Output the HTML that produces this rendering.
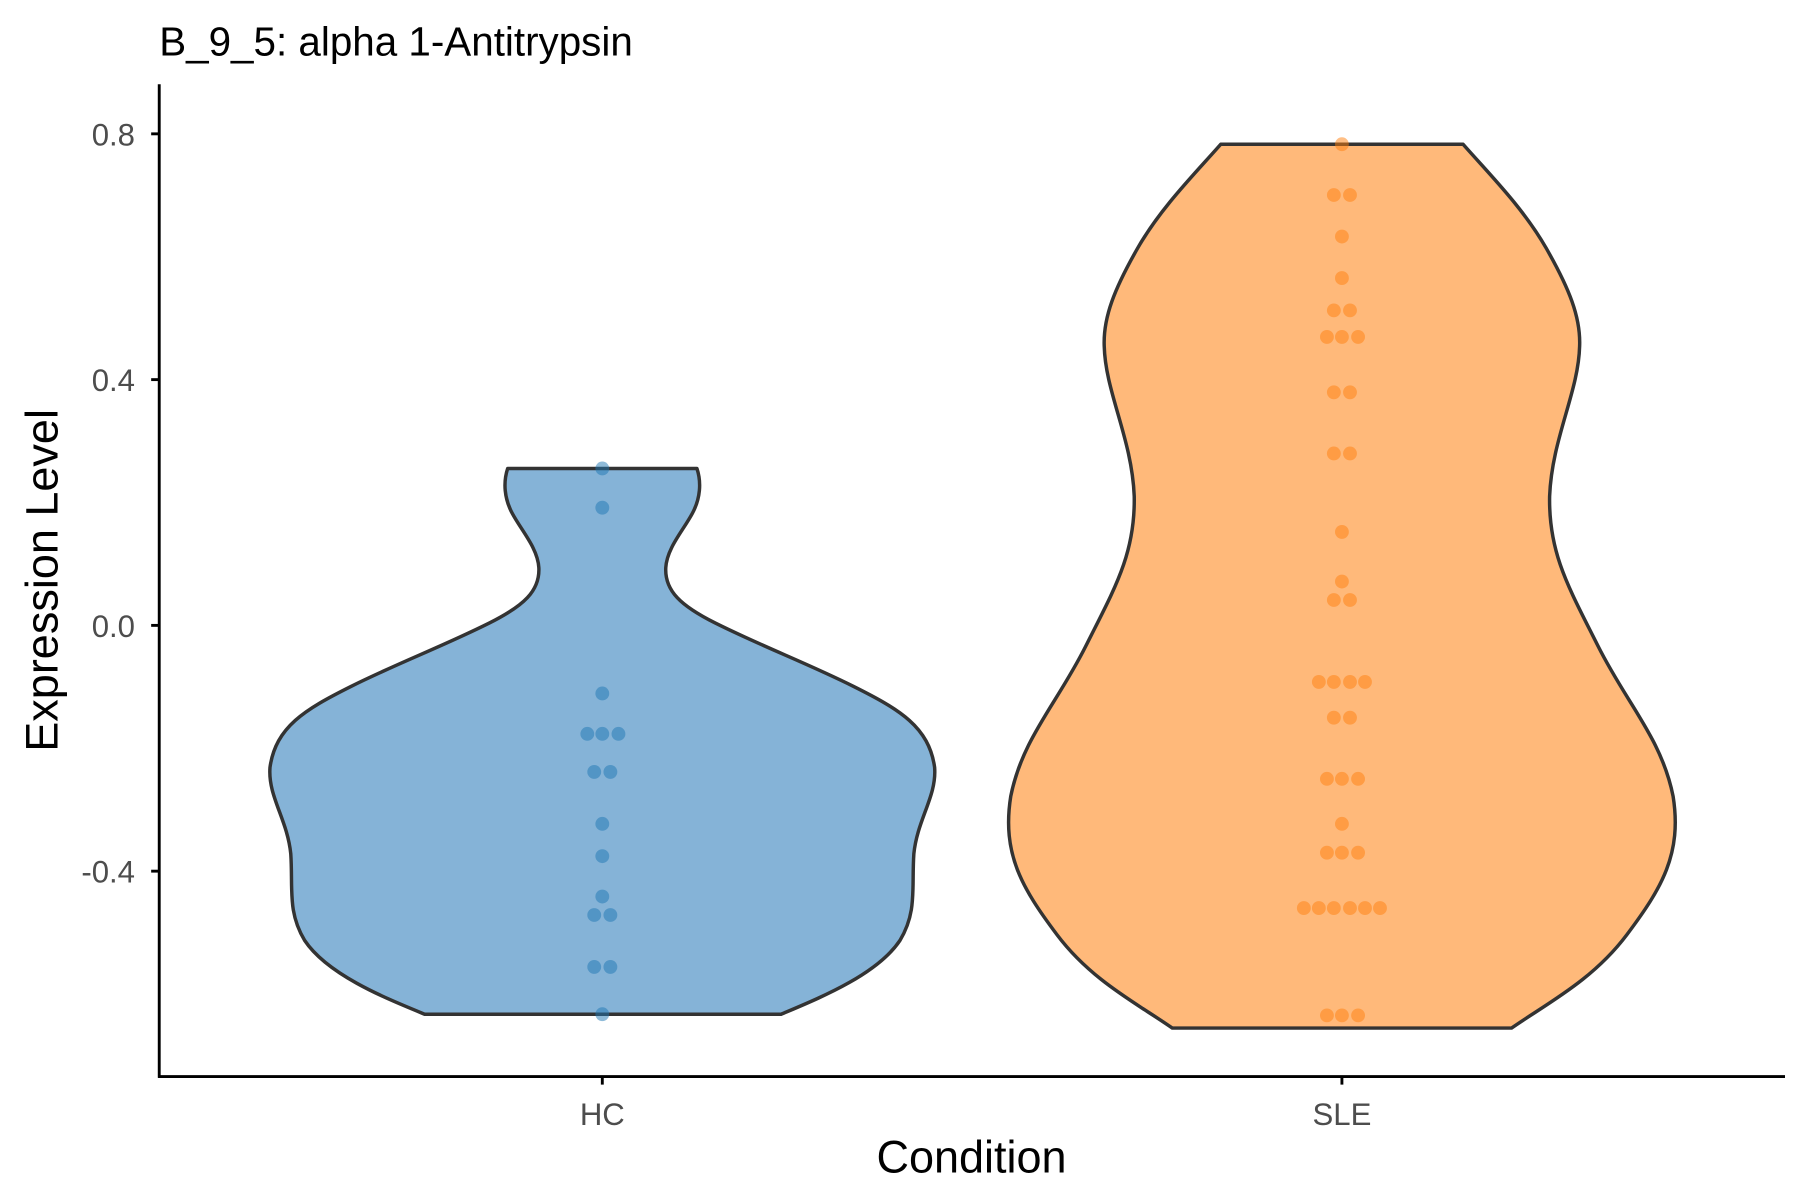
<!DOCTYPE html>
<html><head><meta charset="utf-8"><style>html,body{margin:0;padding:0;background:#fff}svg{display:block}text{font-family:"Liberation Sans",Arial,sans-serif}</style></head>
<body>
<svg width="1800" height="1200" viewBox="0 0 1560 1040" xmlns="http://www.w3.org/2000/svg">
<rect width="1560" height="1040" fill="#fff"/>
<text x="138" y="48" font-size="35" fill="#000">B_9_5: alpha 1-Antitrypsin</text>
<!-- HC violin -->
<path fill="#85b3d7" stroke="#333" stroke-width="3" stroke-linejoin="round" d="
M440,406 L604,406 C608,418 607,432 600,445 C592,460 578,475 577,492 C576,512 590,525 620,540 C660,560 700,575 740,595 C780,615 805,630 810,665 C812,690 795,710 792,740 C790,770 795,790 780,815 C760,845 710,865 677,879
L368,879 C334,865 284,845 264,815 C249,790 254,770 252,740 C249,710 232,690 234,665 C239,630 264,615 304,595 C344,575 384,560 424,540 C454,525 468,512 467,492 C466,475 452,460 444,445 C437,432 436,418 440,406 Z"/>
<!-- SLE violin -->
<path fill="#ffb97a" stroke="#333" stroke-width="3" stroke-linejoin="round" d="
M1058,125 L1268,125 C1290,150 1320,180 1340,215 C1360,250 1370,275 1369,300 C1368,340 1345,380 1343,430 C1342,480 1360,510 1385,560 C1410,610 1440,640 1450,690 C1458,740 1440,770 1410,810 C1380,850 1340,870 1310,891
L1016,891 C986,870 946,850 916,810 C886,770 868,740 876,690 C886,640 916,610 941,560 C966,510 984,480 983,430 C981,380 958,340 957,300 C956,275 966,250 986,215 C1006,180 1036,150 1058,125 Z"/>
<g fill="#1f77b4" fill-opacity="0.5">
<circle cx="522" cy="406" r="6"/><circle cx="522" cy="440" r="6"/><circle cx="522" cy="601" r="6"/>
<circle cx="509" cy="636" r="6"/><circle cx="522" cy="636" r="6"/><circle cx="536" cy="636" r="6"/>
<circle cx="515" cy="669" r="6"/><circle cx="529" cy="669" r="6"/>
<circle cx="522" cy="714" r="6"/><circle cx="522" cy="742" r="6"/><circle cx="522" cy="777" r="6"/>
<circle cx="515" cy="793" r="6"/><circle cx="529" cy="793" r="6"/>
<circle cx="515" cy="838" r="6"/><circle cx="529" cy="838" r="6"/><circle cx="522" cy="879" r="6"/>
</g>
<g fill="#ff7f0e" fill-opacity="0.5">
<circle cx="1163" cy="125" r="6"/><circle cx="1156" cy="169" r="6"/><circle cx="1170" cy="169" r="6"/>
<circle cx="1163" cy="205" r="6"/><circle cx="1163" cy="241" r="6"/>
<circle cx="1156" cy="269" r="6"/><circle cx="1170" cy="269" r="6"/>
<circle cx="1150" cy="292" r="6"/><circle cx="1163" cy="292" r="6"/><circle cx="1177" cy="292" r="6"/>
<circle cx="1156" cy="340" r="6"/><circle cx="1170" cy="340" r="6"/>
<circle cx="1156" cy="393" r="6"/><circle cx="1170" cy="393" r="6"/>
<circle cx="1163" cy="461" r="6"/><circle cx="1163" cy="504" r="6"/>
<circle cx="1156" cy="520" r="6"/><circle cx="1170" cy="520" r="6"/>
<circle cx="1143" cy="591" r="6"/><circle cx="1156" cy="591" r="6"/><circle cx="1170" cy="591" r="6"/><circle cx="1183" cy="591" r="6"/>
<circle cx="1156" cy="622" r="6"/><circle cx="1170" cy="622" r="6"/>
<circle cx="1150" cy="675" r="6"/><circle cx="1163" cy="675" r="6"/><circle cx="1177" cy="675" r="6"/>
<circle cx="1163" cy="714" r="6"/>
<circle cx="1150" cy="739" r="6"/><circle cx="1163" cy="739" r="6"/><circle cx="1177" cy="739" r="6"/>
<circle cx="1130" cy="787" r="6"/><circle cx="1143" cy="787" r="6"/><circle cx="1156" cy="787" r="6"/><circle cx="1170" cy="787" r="6"/><circle cx="1183" cy="787" r="6"/><circle cx="1196" cy="787" r="6"/>
<circle cx="1150" cy="880" r="6"/><circle cx="1163" cy="880" r="6"/><circle cx="1177" cy="880" r="6"/>
</g>
<!-- axes -->
<g stroke="#000" stroke-width="2.5">
<line x1="138" y1="73" x2="138" y2="934"/>
<line x1="137" y1="933" x2="1547" y2="933"/>
<line x1="131" y1="116" x2="138" y2="116"/><line x1="131" y1="329" x2="138" y2="329"/>
<line x1="131" y1="542" x2="138" y2="542"/><line x1="131" y1="755" x2="138" y2="755"/>
<line x1="522" y1="933" x2="522" y2="940"/><line x1="1163" y1="933" x2="1163" y2="940"/>
</g>
<g font-size="27" fill="#4d4d4d" text-anchor="end">
<text x="117" y="126">0.8</text><text x="117" y="339">0.4</text><text x="117" y="552">0.0</text><text x="117" y="765">-0.4</text>
</g>
<g font-size="27" fill="#4d4d4d" text-anchor="middle">
<text x="522" y="975">HC</text><text x="1163" y="975">SLE</text>
</g>
<text x="842" y="1016" font-size="39" text-anchor="middle" fill="#000">Condition</text>
<text transform="translate(50,503) rotate(-90)" font-size="39" text-anchor="middle" fill="#000">Expression Level</text>
</svg>
</body></html>
